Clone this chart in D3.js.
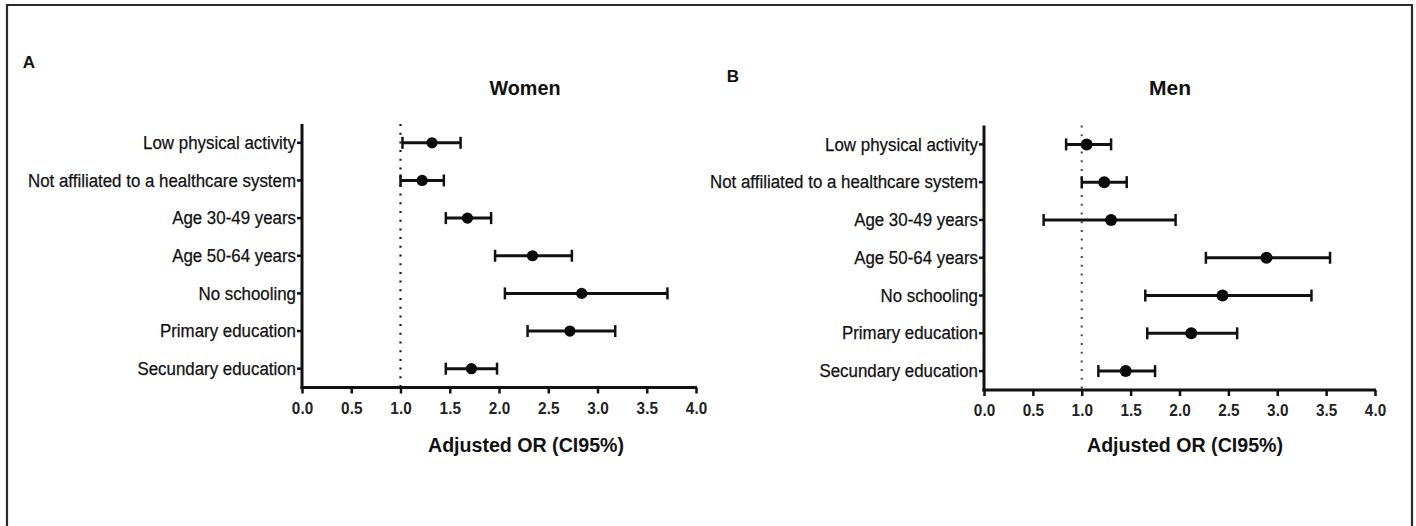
<!DOCTYPE html>
<html>
<head>
<meta charset="utf-8">
<script src="https://cdn.jsdelivr.net/npm/d3@7"></script>
<style>
  html, body { margin: 0; padding: 0; background: #fff; }
  svg { display: block; }
</style>
</head>
<body>
<svg id="chart" width="1416" height="526"></svg>
<script>
// Risk factors shown on both forest plots (top to bottom)
const categories = [
  "Low physical activity",
  "Not affiliated to a healthcare system",
  "Age 30-49 years",
  "Age 50-64 years",
  "No schooling",
  "Primary education",
  "Secundary education"
];

// Women: adjusted odds ratios with 95% confidence limits
const womenOR   = [1.32, 1.22, 1.68, 2.34, 2.84, 2.72, 1.72];
const womenLow  = [1.02, 1.00, 1.46, 1.96, 2.06, 2.29, 1.46];
const womenHigh = [1.61, 1.44, 1.92, 2.74, 3.71, 3.18, 1.98];

// Men: adjusted odds ratios with 95% confidence limits
const menOR   = [1.05, 1.23, 1.30, 2.89, 2.44, 2.12, 1.45];
const menLow  = [0.84, 1.00, 0.61, 2.27, 1.65, 1.67, 1.17];
const menHigh = [1.30, 1.46, 1.96, 3.54, 3.35, 2.59, 1.75];

const xTicks = [0, 0.5, 1.0, 1.5, 2.0, 2.5, 3.0, 3.5, 4.0];
const xDomain = [0, 4];
const referenceOR = 1;

const svg = d3.select("#chart");
const sans = "'Liberation Sans', Arial, sans-serif";

// narrow the glyphs of a text element horizontally by a factor
function condense(sel, factor) {
  sel.each(function () {
    const w = this.getComputedTextLength();
    d3.select(this)
      .attr("textLength", w * factor)
      .attr("lengthAdjust", "spacingAndGlyphs");
  });
  return sel;
}

// frame around the figure
svg.append("path")
  .attr("d", "M7,540 L7,5 L1412,5 L1412,540")
  .attr("fill", "none")
  .attr("stroke", "#2b2b2b")
  .attr("stroke-width", 2.2);

const panels = [
  { letter: "A", title: "Women", titleW: 71, or: womenOR, lo: womenLow, hi: womenHigh,
    x0: 302, x1: 696, top: 124, bottom: 387.5,
    letterX: 29, letterY: 68, titleX: 525, titleY: 95, axisTitleX: 526,
    dotColor: "#1a1a1a", r: 5.6 },
  { letter: "B", title: "Men", titleW: 42, or: menOR, lo: menLow, hi: menHigh,
    x0: 984, x1: 1375, top: 125.5, bottom: 390,
    letterX: 733, letterY: 82, titleX: 1170, titleY: 95, axisTitleX: 1185,
    dotColor: "#555", r: 6 }
];

// category labels: a tall face squeezed so the longest label spans ~268px
const labelSize = 18;
const probe = svg.append("text")
  .attr("font-family", sans).attr("font-size", labelSize)
  .text(categories[1]);
const labelSqueeze = 268 / probe.node().getComputedTextLength();
probe.remove();

panels.forEach(p => {
  const x = d3.scaleLinear().domain(xDomain).range([p.x0, p.x1]);
  const y = d3.scaleBand().domain(categories).range([p.top, p.bottom]).padding(0);
  const cy = c => y(c) + y.bandwidth() / 2;

  // panel letter and title
  svg.append("text")
    .attr("x", p.letterX).attr("y", p.letterY)
    .attr("text-anchor", "middle")
    .attr("font-family", sans)
    .attr("font-weight", "bold").attr("font-size", 17)
    .attr("fill", "#111")
    .text(p.letter);

  const t = svg.append("text")
    .attr("x", p.titleX).attr("y", p.titleY)
    .attr("text-anchor", "middle")
    .attr("font-family", sans)
    .attr("font-weight", "bold").attr("font-size", 21)
    .attr("fill", "#111")
    .text(p.title);
  t.attr("textLength", p.titleW).attr("lengthAdjust", "spacingAndGlyphs");

  // dotted reference line at OR = 1
  svg.append("line")
    .attr("x1", x(referenceOR)).attr("x2", x(referenceOR))
    .attr("y1", p.top).attr("y2", p.bottom)
    .attr("stroke", p.dotColor)
    .attr("stroke-width", 2.2)
    .attr("stroke-dasharray", "2,6.7");

  // y axis with category labels
  const yAxis = svg.append("g")
    .attr("transform", `translate(${p.x0},0)`)
    .call(d3.axisLeft(y).tickSize(5).tickPadding(1).tickSizeOuter(0));
  yAxis.select(".domain")
    .attr("stroke", "#111").attr("stroke-width", 3)
    .attr("d", `M0,${p.top}V${p.bottom + 1.5}`);
  yAxis.selectAll(".tick line").attr("stroke", "#111").attr("stroke-width", 2.5);
  const yLabels = yAxis.selectAll(".tick text")
    .attr("font-family", sans)
    .attr("font-size", labelSize)
    .attr("fill", "#111")
    .attr("stroke", "#111")
    .attr("stroke-width", 0.25)
    .attr("dy", "0.34em");
  condense(yLabels, labelSqueeze);

  // x axis with odds-ratio ticks
  const xAxis = svg.append("g")
    .attr("transform", `translate(0,${p.bottom})`)
    .call(d3.axisBottom(x).tickValues(xTicks).tickFormat(d3.format(".1f"))
      .tickSize(6).tickPadding(8).tickSizeOuter(0));
  xAxis.select(".domain")
    .attr("stroke", "#111").attr("stroke-width", 3)
    .attr("d", `M${p.x0 - 1.5},0H${p.x1 + 1}`);
  xAxis.selectAll(".tick line").attr("stroke", "#111").attr("stroke-width", 2.5);
  const xLabels = xAxis.selectAll(".tick text")
    .attr("font-family", sans)
    .attr("font-weight", "bold")
    .attr("font-size", 17)
    .attr("fill", "#222");
  condense(xLabels, 0.9);

  const at = svg.append("text")
    .attr("x", p.axisTitleX).attr("y", 452)
    .attr("text-anchor", "middle")
    .attr("font-family", sans)
    .attr("font-weight", "bold").attr("font-size", 21)
    .attr("fill", "#111")
    .text("Adjusted OR (CI95%)");
  at.attr("textLength", 196).attr("lengthAdjust", "spacingAndGlyphs");

  // confidence intervals with end caps, and the point estimates
  const rows = categories.map((c, i) => ({ c, or: p.or[i], lo: p.lo[i], hi: p.hi[i] }));
  const g = svg.append("g");
  g.selectAll("line.ci").data(rows).join("line")
    .attr("class", "ci")
    .attr("x1", d => x(d.lo)).attr("x2", d => x(d.hi))
    .attr("y1", d => cy(d.c)).attr("y2", d => cy(d.c))
    .attr("stroke", "#111").attr("stroke-width", 3);
  g.selectAll("line.caplo").data(rows).join("line")
    .attr("class", "caplo")
    .attr("x1", d => x(d.lo)).attr("x2", d => x(d.lo))
    .attr("y1", d => cy(d.c) - 6).attr("y2", d => cy(d.c) + 6)
    .attr("stroke", "#111").attr("stroke-width", 2.5);
  g.selectAll("line.caphi").data(rows).join("line")
    .attr("class", "caphi")
    .attr("x1", d => x(d.hi)).attr("x2", d => x(d.hi))
    .attr("y1", d => cy(d.c) - 6).attr("y2", d => cy(d.c) + 6)
    .attr("stroke", "#111").attr("stroke-width", 2.5);
  g.selectAll("circle").data(rows).join("circle")
    .attr("cx", d => x(d.or)).attr("cy", d => cy(d.c))
    .attr("r", p.r)
    .attr("fill", "#0a0a0a");
});
</script>
</body>
</html>
